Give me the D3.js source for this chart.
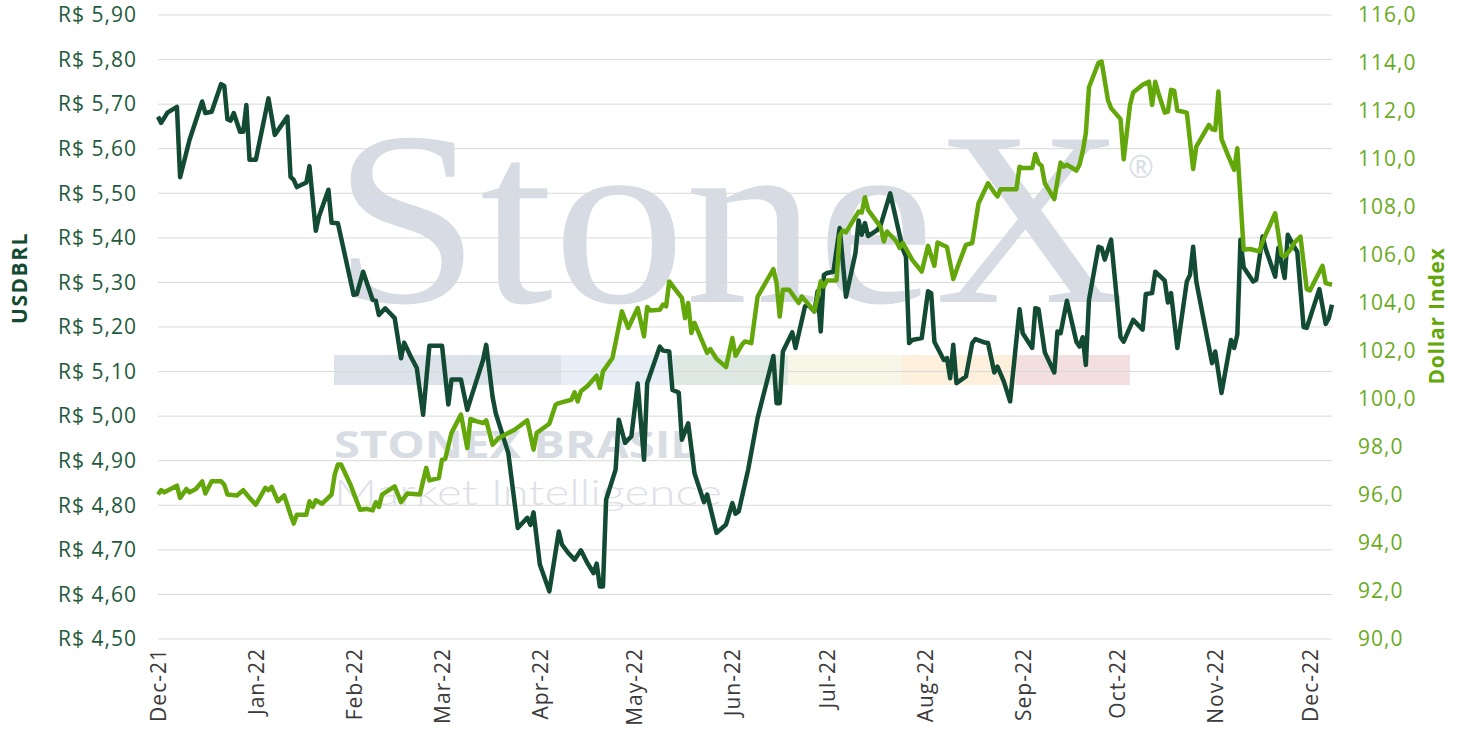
<!DOCTYPE html>
<html>
<head>
<meta charset="utf-8">
<script src="https://cdn.jsdelivr.net/npm/d3@7"></script>
<style>
  body { margin: 0; background: #fff; }
  svg { display: block; font-family: "Open Sans", sans-serif; }
</style>
</head>
<body>
<svg id="chart" width="1461" height="741"></svg>
<script>
// USDBRL closing values (left axis)
var usdbrl = [
  ["2021-12-01",5.672],["2021-12-02",5.658],["2021-12-04",5.681],["2021-12-07",5.694],["2021-12-08",5.536],
  ["2021-12-11",5.620],["2021-12-15",5.706],["2021-12-16",5.680],["2021-12-18",5.683],["2021-12-21",5.745],
  ["2021-12-22",5.741],["2021-12-23",5.666],["2021-12-24",5.663],["2021-12-25",5.680],["2021-12-27",5.638],
  ["2021-12-28",5.638],["2021-12-29",5.698],["2021-12-30",5.575],["2022-01-01",5.575],["2022-01-05",5.713],
  ["2022-01-07",5.631],["2022-01-11",5.672],["2022-01-12",5.537],["2022-01-13",5.530],["2022-01-14",5.514],
  ["2022-01-17",5.524],["2022-01-18",5.561],["2022-01-20",5.416],["2022-01-21",5.448],["2022-01-24",5.508],
  ["2022-01-25",5.434],["2022-01-27",5.433],["2022-02-01",5.272],["2022-02-02",5.274],["2022-02-04",5.324],
  ["2022-02-07",5.261],["2022-02-08",5.259],["2022-02-09",5.227],["2022-02-11",5.242],["2022-02-14",5.220],
  ["2022-02-16",5.130],["2022-02-17",5.165],["2022-02-19",5.135],["2022-02-21",5.108],["2022-02-23",5.003],
  ["2022-02-25",5.158],["2022-03-01",5.158],["2022-03-03",5.026],["2022-03-04",5.082],["2022-03-07",5.082],
  ["2022-03-09",5.014],["2022-03-10",5.037],["2022-03-14",5.126],["2022-03-15",5.160],["2022-03-17",5.044],
  ["2022-03-18",5.007],["2022-03-22",4.917],["2022-03-25",4.749],["2022-03-28",4.772],["2022-03-29",4.756],
  ["2022-03-30",4.784],["2022-04-01",4.667],["2022-04-04",4.607],["2022-04-07",4.741],["2022-04-08",4.712],
  ["2022-04-10",4.693],["2022-04-12",4.678],["2022-04-14",4.699],["2022-04-16",4.671],["2022-04-18",4.648],
  ["2022-04-19",4.669],["2022-04-20",4.618],["2022-04-21",4.618],["2022-04-22",4.813],["2022-04-25",4.880],
  ["2022-04-26",4.992],["2022-04-28",4.940],["2022-04-30",4.955],["2022-05-02",5.073],["2022-05-04",4.902],
  ["2022-05-05",5.074],["2022-05-09",5.156],["2022-05-10",5.147],["2022-05-12",5.145],["2022-05-13",5.059],
  ["2022-05-15",5.053],["2022-05-16",4.947],["2022-05-18",4.984],["2022-05-20",4.872],["2022-05-23",4.807],
  ["2022-05-24",4.824],["2022-05-27",4.738],["2022-05-30",4.757],["2022-06-01",4.805],["2022-06-02",4.781],
  ["2022-06-03",4.786],["2022-06-06",4.880],["2022-06-09",4.996],["2022-06-14",5.135],["2022-06-15",5.029],
  ["2022-06-16",5.029],["2022-06-17",5.145],["2022-06-20",5.188],["2022-06-21",5.153],["2022-06-24",5.246],
  ["2022-06-25",5.250],["2022-06-27",5.235],["2022-06-28",5.280],["2022-06-29",5.190],["2022-06-30",5.317],
  ["2022-07-01",5.321],["2022-07-03",5.324],["2022-07-05",5.422],["2022-07-07",5.268],["2022-07-10",5.366],
  ["2022-07-11",5.439],["2022-07-12",5.407],["2022-07-13",5.433],["2022-07-14",5.404],["2022-07-17",5.418],
  ["2022-07-18",5.429],["2022-07-21",5.500],["2022-07-25",5.375],["2022-07-26",5.358],["2022-07-27",5.164],
  ["2022-07-28",5.171],["2022-07-31",5.175],["2022-08-02",5.280],["2022-08-03",5.276],["2022-08-04",5.167],
  ["2022-08-07",5.126],["2022-08-08",5.130],["2022-08-09",5.085],["2022-08-10",5.160],["2022-08-11",5.074],
  ["2022-08-14",5.089],["2022-08-16",5.164],["2022-08-17",5.173],["2022-08-20",5.165],["2022-08-21",5.164],
  ["2022-08-23",5.098],["2022-08-24",5.111],["2022-08-26",5.078],["2022-08-28",5.033],["2022-08-31",5.240],
  ["2022-09-01",5.186],["2022-09-04",5.153],["2022-09-05",5.242],["2022-09-06",5.240],["2022-09-08",5.143],
  ["2022-09-11",5.098],["2022-09-12",5.190],["2022-09-13",5.186],["2022-09-15",5.259],["2022-09-18",5.167],
  ["2022-09-19",5.156],["2022-09-20",5.177],["2022-09-21",5.115],["2022-09-22",5.261],["2022-09-25",5.380],
  ["2022-09-26",5.377],["2022-09-27",5.351],["2022-09-29",5.396],["2022-10-02",5.177],["2022-10-03",5.167],
  ["2022-10-06",5.216],["2022-10-09",5.194],["2022-10-10",5.274],["2022-10-12",5.276],["2022-10-13",5.324],
  ["2022-10-16",5.304],["2022-10-17",5.255],["2022-10-18",5.276],["2022-10-20",5.153],["2022-10-23",5.302],
  ["2022-10-24",5.317],["2022-10-25",5.380],["2022-10-26",5.302],["2022-10-31",5.119],["2022-11-01",5.145],
  ["2022-11-03",5.052],["2022-11-06",5.171],["2022-11-07",5.153],["2022-11-08",5.183],["2022-11-09",5.396],
  ["2022-11-10",5.334],["2022-11-13",5.302],["2022-11-14",5.306],["2022-11-16",5.403],["2022-11-17",5.375],
  ["2022-11-20",5.313],["2022-11-21",5.377],["2022-11-23",5.310],["2022-11-24",5.407],["2022-11-26",5.380],
  ["2022-11-27",5.369],["2022-11-29",5.200],["2022-11-30",5.198],["2022-12-04",5.285],["2022-12-06",5.207],
  ["2022-12-07",5.220],["2022-12-08",5.250]
];

// Dollar Index (right axis)
var dollarIndex = [
  ["2021-12-01",96.02],["2021-12-02",96.20],["2021-12-03",96.11],["2021-12-07",96.39],["2021-12-08",95.88],
  ["2021-12-10",96.25],["2021-12-11",96.11],["2021-12-13",96.25],["2021-12-15",96.57],["2021-12-16",96.06],
  ["2021-12-18",96.57],["2021-12-21",96.57],["2021-12-22",96.43],["2021-12-23",96.02],["2021-12-26",95.98],
  ["2021-12-28",96.20],["2021-12-30",95.88],["2022-01-01",95.60],["2022-01-04",96.30],["2022-01-05",96.20],
  ["2022-01-06",96.34],["2022-01-08",95.74],["2022-01-10",95.98],["2022-01-12",95.18],["2022-01-13",94.81],
  ["2022-01-14",95.18],["2022-01-17",95.18],["2022-01-18",95.74],["2022-01-19",95.50],["2022-01-20",95.78],
  ["2022-01-22",95.64],["2022-01-25",96.02],["2022-01-26",96.85],["2022-01-27",97.27],["2022-01-28",97.27],
  ["2022-01-31",96.43],["2022-02-03",95.39],["2022-02-05",95.42],["2022-02-07",95.36],["2022-02-08",95.70],
  ["2022-02-09",95.50],["2022-02-10",96.02],["2022-02-14",96.36],["2022-02-16",95.70],["2022-02-18",96.06],
  ["2022-02-22",96.02],["2022-02-24",97.13],["2022-02-25",96.61],["2022-02-28",96.71],["2022-03-01",97.47],
  ["2022-03-02",97.50],["2022-03-04",98.59],["2022-03-07",99.35],["2022-03-09",97.96],["2022-03-10",99.17],
  ["2022-03-12",99.07],["2022-03-14",99.00],["2022-03-15",99.11],["2022-03-17",98.10],["2022-03-19",98.38],
  ["2022-03-24",98.72],["2022-03-28",99.11],["2022-03-30",97.89],["2022-03-31",98.59],["2022-04-04",98.97],
  ["2022-04-06",99.76],["2022-04-07",99.83],["2022-04-11",99.97],["2022-04-12",100.28],["2022-04-13",99.90],
  ["2022-04-14",100.32],["2022-04-16",100.53],["2022-04-19",100.97],["2022-04-20",100.46],["2022-04-21",101.15],
  ["2022-04-24",101.71],["2022-04-27",103.65],["2022-04-29",102.96],["2022-05-02",103.79],["2022-05-04",102.61],
  ["2022-05-05",103.83],["2022-05-06",103.69],["2022-05-09",103.72],["2022-05-10",103.93],["2022-05-11",103.86],
  ["2022-05-12",104.90],["2022-05-14",104.55],["2022-05-16",104.21],["2022-05-17",103.37],["2022-05-18",104.00],
  ["2022-05-19",102.75],["2022-05-20",103.17],["2022-05-24",101.92],["2022-05-25",102.08],["2022-05-27",101.67],
  ["2022-05-30",101.33],["2022-06-01",102.54],["2022-06-02",101.80],["2022-06-04",102.26],["2022-06-05",102.40],
  ["2022-06-07",102.33],["2022-06-09",104.27],["2022-06-14",105.41],["2022-06-15",104.83],["2022-06-16",103.44],
  ["2022-06-17",104.55],["2022-06-19",104.55],["2022-06-22",104.00],["2022-06-23",104.27],["2022-06-27",103.65],
  ["2022-06-29",104.90],["2022-06-30",104.69],["2022-07-01",104.94],["2022-07-04",104.94],["2022-07-05",106.80],
  ["2022-07-06",107.02],["2022-07-07",106.94],["2022-07-11",107.81],["2022-07-12",107.77],["2022-07-13",108.41],
  ["2022-07-14",107.88],["2022-07-18",107.16],["2022-07-19",106.56],["2022-07-20",106.98],["2022-07-23",106.56],
  ["2022-07-24",106.29],["2022-07-25",106.50],["2022-07-28",105.80],["2022-07-31",105.31],["2022-08-02",106.38],
  ["2022-08-04",105.55],["2022-08-05",106.52],["2022-08-08",106.33],["2022-08-10",105.00],["2022-08-12",105.73],
  ["2022-08-14",106.42],["2022-08-16",106.50],["2022-08-18",108.16],["2022-08-21",108.99],["2022-08-23",108.60],
  ["2022-08-24",108.44],["2022-08-25",108.74],["2022-08-30",108.74],["2022-08-31",109.68],["2022-09-01",109.62],
  ["2022-09-04",109.62],["2022-09-05",110.21],["2022-09-06",109.83],["2022-09-07",109.71],["2022-09-08",108.99],
  ["2022-09-11",108.33],["2022-09-13",109.85],["2022-09-14",109.68],["2022-09-15",109.76],["2022-09-18",109.52],
  ["2022-09-19",109.76],["2022-09-20",110.31],["2022-09-21",111.08],["2022-09-22",112.99],["2022-09-25",114.01],
  ["2022-09-26",114.06],["2022-09-28",112.46],["2022-09-29",112.12],["2022-10-02",111.66],["2022-10-03",109.99],
  ["2022-10-05",112.25],["2022-10-06",112.77],["2022-10-09",113.09],["2022-10-11",113.22],["2022-10-12",112.25],
  ["2022-10-13",113.22],["2022-10-14",112.74],["2022-10-16",111.93],["2022-10-17",111.97],["2022-10-18",112.88],
  ["2022-10-19",112.85],["2022-10-20",112.02],["2022-10-23",111.93],["2022-10-25",109.58],["2022-10-26",110.52],
  ["2022-10-30",111.42],["2022-10-31",111.24],["2022-11-01",111.21],["2022-11-02",112.81],["2022-11-03",110.83],
  ["2022-11-05",110.17],["2022-11-07",109.55],["2022-11-08",110.45],["2022-11-10",106.22],["2022-11-12",106.25],
  ["2022-11-15",106.15],["2022-11-16",106.56],["2022-11-20",107.74],["2022-11-22",106.01],["2022-11-23",105.94],
  ["2022-11-25",106.25],["2022-11-26",106.50],["2022-11-28",106.77],["2022-11-30",104.58],["2022-12-01",104.52],
  ["2022-12-05",105.55],["2022-12-06",104.83],["2022-12-08",104.76]
];

var leftTicks = [4.5, 4.6, 4.7, 4.8, 4.9, 5.0, 5.1, 5.2, 5.3, 5.4, 5.5, 5.6, 5.7, 5.8, 5.9];
var rightTicks = [90, 92, 94, 96, 98, 100, 102, 104, 106, 108, 110, 112, 114, 116];
var monthTicks = ["2021-12-01","2022-01-01","2022-02-01","2022-03-01","2022-04-01","2022-05-01",
                  "2022-06-01","2022-07-01","2022-08-01","2022-09-01","2022-10-01","2022-11-01","2022-12-01"];
var monthLabels = ["Dec-21","Jan-22","Feb-22","Mar-22","Apr-22","May-22","Jun-22",
                   "Jul-22","Aug-22","Sep-22","Oct-22","Nov-22","Dec-22"];

function drawChart() {
  var parse = d3.utcParse("%Y-%m-%d");
  var svg = d3.select("#chart"),
      plotLeft = 158, plotRight = 1332, plotTop = 15, plotBottom = 639;

  var x = d3.scaleUtc().domain([parse("2021-12-01"), parse("2022-12-08")]).range([plotLeft, plotRight]);
  var yL = d3.scaleLinear().domain([4.5, 5.9]).range([plotBottom, plotTop]);
  var yR = d3.scaleLinear().domain([90, 116]).range([plotBottom, plotTop]);

  // watermark (logo behind the plot)
  var wm = svg.append("g").attr("class", "watermark");
  wm.append("text")
    .attr("x", 333).attr("y", 302)
    .attr("font-family", "'Liberation Serif', serif")
    .attr("font-size", 248)
    .attr("textLength", 792).attr("lengthAdjust", "spacingAndGlyphs")
    .attr("fill", "#d7dce4")
    .text("StoneX");
  wm.append("text")
    .attr("x", 1128).attr("y", 178)
    .attr("font-size", 31)
    .attr("fill", "#d9dee5")
    .text("\u00AE");
  var band = [[334, 561, "#dce2ea"], [561, 674, "#e7eef6"], [674, 788, "#dce8e1"],
              [788, 902, "#f8f6e6"], [902, 1016, "#fcf0dd"], [1016, 1130, "#f3dfe0"]];
  wm.selectAll("rect").data(band).enter().append("rect")
    .attr("x", function(d) { return d[0]; })
    .attr("y", 355)
    .attr("width", function(d) { return d[1] - d[0]; })
    .attr("height", 30)
    .attr("fill", function(d) { return d[2]; });
  wm.append("text")
    .attr("x", 334).attr("y", 458)
    .attr("font-size", 37).attr("font-weight", 700)
    .attr("textLength", 363).attr("lengthAdjust", "spacingAndGlyphs")
    .attr("fill", "#d8dde4")
    .text("STONEX BRASIL");
  wm.append("text")
    .attr("x", 334).attr("y", 505)
    .attr("font-family", "Lato, sans-serif")
    .attr("font-size", 35).attr("font-weight", 300)
    .attr("textLength", 388).attr("lengthAdjust", "spacingAndGlyphs")
    .attr("fill", "#dde1e7")
    .text("Market Intelligence");

  // gridlines
  svg.append("g").selectAll("line").data(leftTicks).enter().append("line")
    .attr("x1", plotLeft).attr("x2", plotRight)
    .attr("y1", function(d) { return yL(d); })
    .attr("y2", function(d) { return yL(d); })
    .attr("stroke", "#d9d9d9").attr("stroke-width", 1);

  // left axis
  var gl = svg.append("g")
    .attr("transform", "translate(" + plotLeft + ",0)")
    .call(d3.axisLeft(yL).tickValues(leftTicks).tickSize(0).tickPadding(21)
          .tickFormat(function(d) { return "R$ " + d.toFixed(2).replace(".", ","); }));
  gl.select(".domain").remove();
  gl.selectAll("text")
    .attr("font-family", "'Open Sans', sans-serif")
    .attr("font-size", 21).attr("letter-spacing", 1)
    .attr("fill", "#1f5a3c");

  // right axis
  var gr = svg.append("g")
    .attr("transform", "translate(" + plotRight + ",0)")
    .call(d3.axisRight(yR).tickValues(rightTicks).tickSize(0).tickPadding(26)
          .tickFormat(function(d) { return d.toFixed(1).replace(".", ","); }));
  gr.select(".domain").remove();
  gr.selectAll("text")
    .attr("font-family", "'Open Sans', sans-serif")
    .attr("font-size", 21).attr("letter-spacing", 1)
    .attr("fill", "#6aaa1e");

  // bottom axis, rotated month labels
  var gb = svg.append("g")
    .attr("transform", "translate(0," + plotBottom + ")")
    .call(d3.axisBottom(x).tickValues(monthTicks.map(parse)).tickSize(0)
          .tickFormat(function(d, i) { return monthLabels[i]; }));
  gb.select(".domain").remove();
  gb.selectAll("text")
    .attr("transform", "rotate(-90)")
    .attr("x", -9).attr("y", 0).attr("dy", "0.35em")
    .attr("text-anchor", "end")
    .attr("font-family", "'Open Sans', sans-serif")
    .attr("font-size", 21).attr("letter-spacing", 1)
    .attr("fill", "#3a3a3a");

  // axis titles
  svg.append("text")
    .attr("transform", "translate(20,278) rotate(-90)")
    .attr("text-anchor", "middle").attr("dy", "0.35em")
    .attr("font-size", 21).attr("font-weight", 700).attr("letter-spacing", 1.5)
    .attr("fill", "#134a32")
    .text("USDBRL");
  svg.append("text")
    .attr("transform", "translate(1437,316) rotate(-90)")
    .attr("text-anchor", "middle").attr("dy", "0.35em")
    .attr("font-size", 21).attr("font-weight", 700).attr("letter-spacing", 0.8)
    .attr("fill", "#64a70b")
    .text("Dollar Index");

  // series lines
  var lineL = d3.line()
    .x(function(d) { return x(parse(d[0])); })
    .y(function(d) { return yL(d[1]); });
  var lineR = d3.line()
    .x(function(d) { return x(parse(d[0])); })
    .y(function(d) { return yR(d[1]); });

  svg.append("path").datum(usdbrl)
    .attr("d", lineL)
    .attr("fill", "none").attr("stroke", "#124a33")
    .attr("stroke-width", 4.5).attr("stroke-linejoin", "round");
  svg.append("path").datum(dollarIndex)
    .attr("d", lineR)
    .attr("fill", "none").attr("stroke", "#64a70b")
    .attr("stroke-width", 4.5).attr("stroke-linejoin", "round");
}

drawChart();
</script>
</body>
</html>
